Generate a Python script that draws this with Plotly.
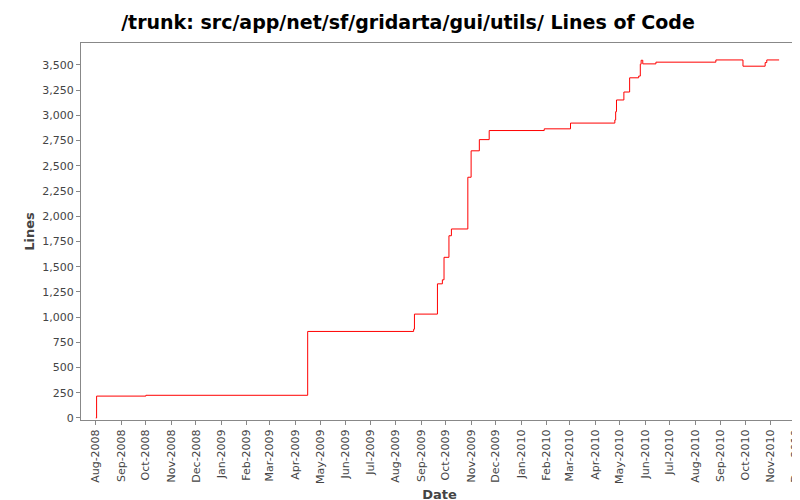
import plotly.graph_objects as go

dates = ["2008-08-01", "2008-08-02", "2008-10-01", "2009-04-16", "2009-08-23", "2009-08-24",
         "2009-09-21", "2009-09-27", "2009-09-29", "2009-10-05", "2009-10-08", "2009-10-28",
         "2009-11-01", "2009-11-11", "2009-11-23", "2010-01-29", "2010-03-02", "2010-04-25",
         "2010-04-26", "2010-04-27", "2010-05-06", "2010-05-13", "2010-05-24", "2010-05-26",
         "2010-05-27", "2010-05-29", "2010-06-14", "2010-08-26", "2010-09-28", "2010-10-25",
         "2010-10-27", "2010-11-11"]
lines = [0, 217, 225, 858, 880, 1030,
         1330, 1370, 1593, 1807, 1874, 2387,
         2649, 2760, 2850, 2867, 2924, 2955,
         3037, 3153, 3232, 3373, 3390, 3508,
         3547, 3511, 3528, 3550, 3488, 3524,
         3550, 3550]

fig = go.Figure(go.Scatter(x=dates, y=lines, mode="lines", line=dict(color="red", width=1, shape="hv")))
fig.update_layout(
    width=800, height=500, margin=dict(l=73, r=10, t=35, b=88),
    paper_bgcolor="white", plot_bgcolor="white", showlegend=False,
    font=dict(family="DejaVu Sans", size=11, color="#444"),
    title=dict(text="<b>/trunk: src/app/net/sf/gridarta/gui/utils/ Lines of Code</b>",
               x=0.5, xanchor="center", y=0.985, yanchor="top", font=dict(size=19, color="black")),
)
fig.update_xaxes(range=["2008-07-14", "2010-12-04"], dtick="M1", tick0="2008-08-01", tickformat="%b-%Y",
                 tickangle=-90, showgrid=False, showline=True, linecolor="#888", mirror=True,
                 ticks="outside", ticklen=4, tickcolor="#888", automargin=False,
                 title=dict(text="<b>Date</b>", font=dict(size=13, color="#444"), standoff=6))
fig.update_yaxes(range=[-20, 3718], tickvals=list(range(0, 3501, 250)), tickformat=",",
                 showgrid=False, showline=True, linecolor="#888", mirror=True, zeroline=False,
                 ticks="outside", ticklen=4, tickcolor="#888", automargin=False,
                 title=dict(text="<b>Lines</b>", font=dict(size=13, color="#444"), standoff=4))
fig.write_html("out.html")
